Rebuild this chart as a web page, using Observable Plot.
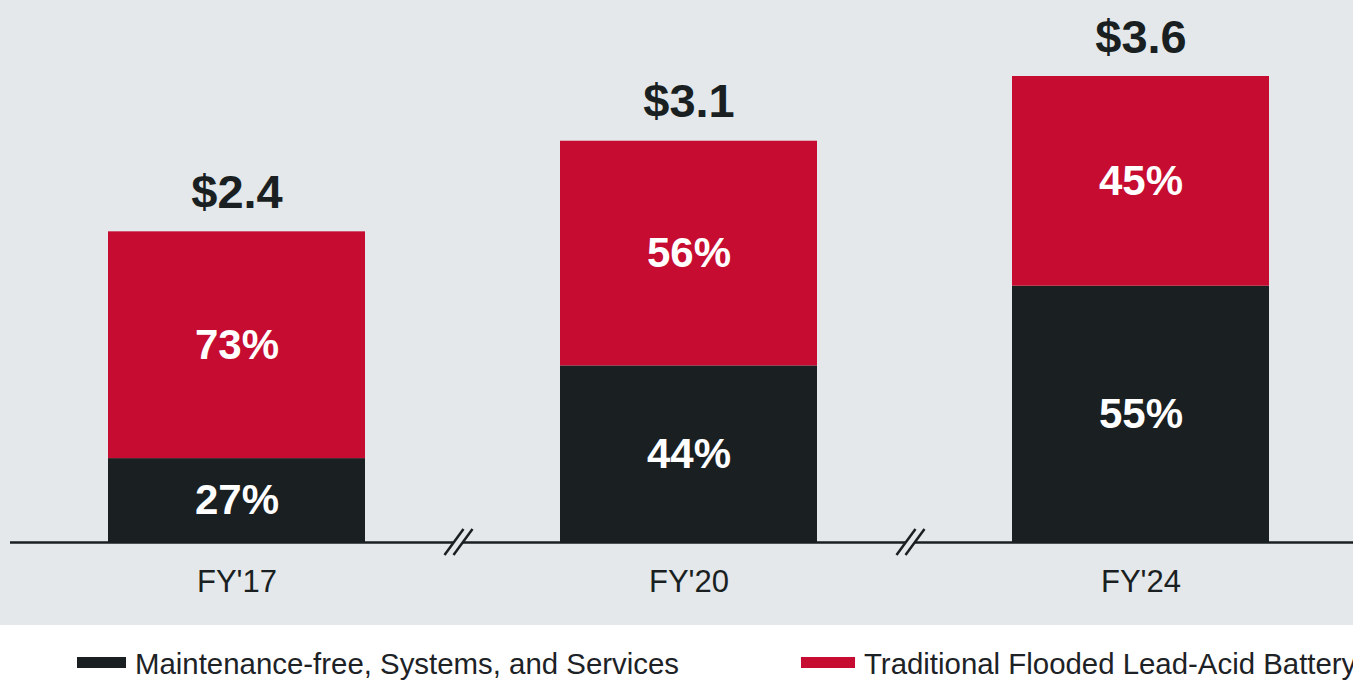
<!DOCTYPE html>
<html><head><meta charset="utf-8">
<script src="https://cdn.jsdelivr.net/npm/d3@7"></script>
<script src="https://cdn.jsdelivr.net/npm/@observablehq/plot@0.6"></script>
<style>
html,body{margin:0;padding:0;background:#fff;overflow:hidden;width:1353px;height:681px;font-family:"Liberation Sans",Arial,sans-serif;}
#chart svg{display:block;}
#legend{position:relative;height:56px;width:1353px;overflow:hidden;}
.item{position:absolute;top:23px;height:32px;display:flex;align-items:center;white-space:nowrap;font-size:29.4px;line-height:32px;color:#1d2226;}
.sw{display:inline-block;height:11px;margin-right:9px;margin-top:-3px;flex:none;}
</style></head><body><div id="chart"></div><div id="legend"></div>
<script>
const years = ["FY'17", "FY'20", "FY'24"];
const totals = [2.4, 3.1, 3.6];
const totalLabels = ["$2.4", "$3.1", "$3.6"];
const series = ["Maintenance-free, Systems, and Services", "Traditional Flooded Lead-Acid Battery"];
const maintenanceShare = [27, 44, 55];
const floodedShare = [73, 56, 45];
const colors = ["#1a1f22", "#c60c30"];
const bg = "#e4e8eb";

const rows = [];
years.forEach((y, i) => {
  rows.push({year: y, series: series[0], share: maintenanceShare[i], value: totals[i] * maintenanceShare[i] / 100});
  rows.push({year: y, series: series[1], share: floodedShare[i], value: totals[i] * floodedShare[i] / 100});
});
const totRows = years.map((y, i) => ({year: y, total: totals[i], label: totalLabels[i]}));

const plot = Plot.plot({
  width: 1353, height: 625,
  marginLeft: 10, marginRight: 0, marginTop: 76, marginBottom: 83,
  style: {background: bg, fontFamily: "Liberation Sans, Arial, sans-serif", color: "#1a1f22", overflow: "visible"},
  x: {domain: years, paddingInner: 0.4305, paddingOuter: 0.1976, align: 0.542, axis: null},
  y: {domain: [0, 3.6], axis: null},
  color: {domain: series, range: colors},
  marks: [
    Plot.barY(rows, Plot.stackY({x: "year", y: "value", fill: "series", z: "series"})),
    Plot.text(rows, Plot.stackY({x: "year", y: "value", z: "series", text: d => d.share + "%", fill: "white", fontSize: 42, fontWeight: "bold"})),
    Plot.text(totRows, {x: "year", y: "total", text: "label", dy: -39, fontSize: 47, fontWeight: "bold", fill: "#1a1f22"}),
    Plot.ruleY([0], {stroke: "#1a1f22", strokeWidth: 2.5}),
    Plot.axisX({tickSize: 0, tickPadding: 27, fontSize: 31, label: null, fill: "#1a1f22"})
  ]
});
document.getElementById("chart").appendChild(plot);

// axis-break marks between bars, positioned from the x and y scales
const xs = plot.scale("x"), ys = plot.scale("y");
const y0 = ys.apply(0);
const g = d3.select(plot).append("g");
for (let i = 0; i < years.length - 1; i++) {
  const c = (xs.apply(years[i]) + xs.bandwidth + xs.apply(years[i + 1])) / 2 - 4;
  const h = 13, s = 9.5, o = 4.5;
  g.append("polygon")
    .attr("points", [[c - o - s, y0 + h], [c - o + s, y0 - h], [c + o + s, y0 - h], [c + o - s, y0 + h]].map(p => p.join(",")).join(" "))
    .attr("fill", bg);
  for (const off of [-o, o]) {
    g.append("line")
      .attr("x1", c + off - s).attr("y1", y0 + h)
      .attr("x2", c + off + s).attr("y2", y0 - h)
      .attr("stroke", "#1a1f22").attr("stroke-width", 2.5);
  }
}

// legend
const legend = document.getElementById("legend");
const lefts = [77, 801];
const widths = [49, 54];
series.forEach((s, i) => {
  const item = document.createElement("div");
  item.className = "item";
  item.style.left = lefts[i] + "px";
  const sw = document.createElement("span");
  sw.className = "sw";
  sw.style.width = widths[i] + "px";
  sw.style.background = colors[i];
  item.appendChild(sw);
  item.appendChild(document.createTextNode(s));
  legend.appendChild(item);
});
</script>
</body></html>
